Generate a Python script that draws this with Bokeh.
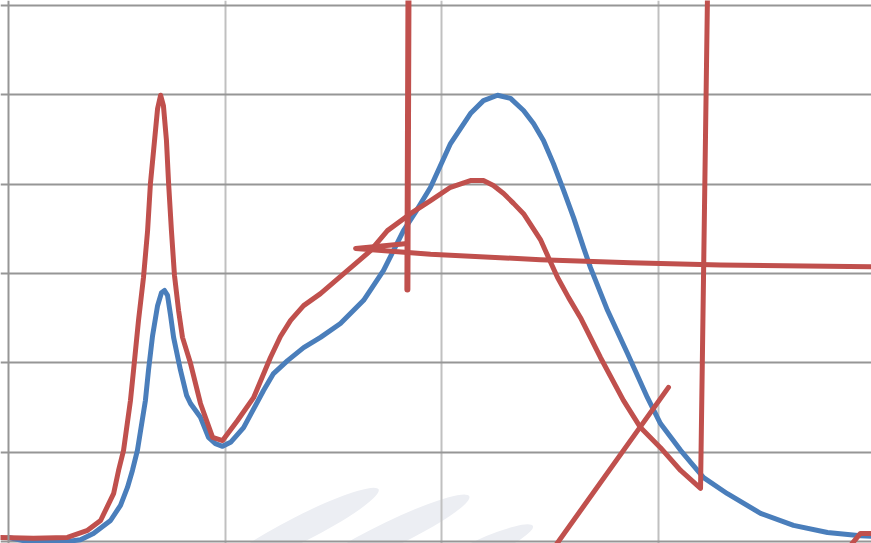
from bokeh.plotting import figure
from bokeh.models import FixedTicker, Range1d, Span
from bokeh.embed import file_html
from bokeh.resources import INLINE

# ---- data (wavelength nm, relative intensity) ----
wavelength_blue = [380.0, 388.8, 407.2, 413.2, 419.2, 427.1, 431.7, 434.9, 437.2, 439.5,
                   443.2, 444.6, 446.5, 448.8, 450.6, 452.0, 453.4, 454.8, 456.2, 459.4,
                   462.2, 464.0, 468.6, 472.3, 475.5, 478.8, 482.5, 488.5, 497.7, 502.3,
                   508.8, 516.2, 524.0, 533.2, 543.9, 553.1, 562.3, 568.3, 574.8, 584.0,
                   593.2, 599.2, 605.7, 611.7, 617.7, 622.3, 626.9, 631.5, 636.2, 640.8,
                   645.4, 648.6, 656.5, 665.7, 674.9, 680.9, 690.2, 700.8, 711.8, 727.1,
                   742.3, 758.0, 773.2, 780.2]
intensity_blue = [0.009, 0.000, 0.000, 0.004, 0.018, 0.047, 0.081, 0.121, 0.159, 0.204,
                  0.316, 0.383, 0.461, 0.528, 0.557, 0.562, 0.551, 0.506, 0.457, 0.383,
                  0.327, 0.309, 0.278, 0.233, 0.219, 0.213, 0.222, 0.255, 0.338, 0.376,
                  0.405, 0.434, 0.457, 0.488, 0.540, 0.607, 0.696, 0.741, 0.793, 0.891,
                  0.958, 0.987, 0.999, 0.992, 0.965, 0.936, 0.898, 0.846, 0.786, 0.725,
                  0.658, 0.613, 0.517, 0.421, 0.322, 0.264, 0.204, 0.143, 0.107, 0.063,
                  0.036, 0.020, 0.013, 0.011]

wavelength_red = [376.3, 391.5, 407.2, 416.5, 422.5, 428.5, 430.8, 433.1, 436.3, 437.7,
                  440.0, 442.3, 444.2, 445.5, 447.4, 448.8, 450.2, 451.5, 452.9, 453.9,
                  455.2, 456.6, 458.5, 460.3, 464.0, 468.6, 474.2, 478.8, 485.7, 493.1,
                  500.9, 505.5, 510.2, 516.2, 524.0, 536.5, 547.1, 554.9, 565.5, 574.8,
                  584.0, 593.2, 599.2, 603.8, 608.5, 613.1, 617.7, 625.5, 629.2, 633.4,
                  638.5, 644.0, 653.2, 663.8, 671.7, 680.9, 690.2, 699.4, 702.6]
intensity_red = [0.009, 0.007, 0.009, 0.025, 0.047, 0.107, 0.159, 0.204, 0.316, 0.383,
                 0.495, 0.591, 0.696, 0.801, 0.898, 0.969, 0.999, 0.976, 0.898, 0.801,
                 0.696, 0.596, 0.517, 0.457, 0.399, 0.309, 0.233, 0.226, 0.271, 0.322,
                 0.412, 0.459, 0.495, 0.528, 0.555, 0.607, 0.651, 0.696, 0.734, 0.763,
                 0.793, 0.808, 0.808, 0.797, 0.779, 0.757, 0.734, 0.676, 0.636, 0.591,
                 0.546, 0.501, 0.412, 0.316, 0.255, 0.210, 0.159, 0.119, 1.222]

# hand-drawn red marks
mark_vert_x = [564.6, 564.1]
mark_vert_y = [1.222, 0.564]
mark_horiz_x = [564.1, 540.2, 574.8, 625.5, 667.1, 708.6, 780.0]
mark_horiz_y = [0.667, 0.656, 0.643, 0.631, 0.624, 0.619, 0.615]
mark_diag_x = [632.5, 684.6]
mark_diag_y = [-0.009, 0.345]
mark_tail_x = [768.6, 773.2, 780.0]
mark_tail_y = [-0.009, 0.018, 0.018]

# faint watermark swooshes
wm_x = [514.8, 556.3, 597.8]
wm_y = [0.028, 0.016, -0.018]
wm_len = [175, 175, 115]
wm_thick = [26, 26, 20]
wm_angle = [0.47, 0.45, 0.42]

x_grid_ticks = [480, 580, 680]
y_grid_ticks = [0.0, 0.2, 0.4, 0.6, 0.8, 1.0, 1.2]

BLUE = "#4a7ebb"
RED = "#c0504d"

p = figure(width=871, height=543, output_backend="svg", toolbar_location=None,
           x_range=Range1d(376.31, 778.3), y_range=Range1d(-0.0045, 1.2112),
           min_border=0, min_border_left=0, min_border_right=0,
           min_border_top=0, min_border_bottom=0)
p.xaxis.visible = False
p.yaxis.visible = False
p.outline_line_color = None
p.background_fill_color = "white"
p.border_fill_color = "white"

p.xgrid.ticker = FixedTicker(ticks=x_grid_ticks)
p.xgrid.grid_line_color = "#c0c0c0"
p.xgrid.grid_line_width = 2
p.ygrid.ticker = FixedTicker(ticks=y_grid_ticks)
p.ygrid.grid_line_color = "#969696"
p.ygrid.grid_line_width = 2

p.ellipse(x=wm_x, y=wm_y, width=wm_len, height=wm_thick, angle=wm_angle,
          width_units="screen", height_units="screen",
          fill_color="#eceef3", line_color=None, level="image")

p.add_layout(Span(location=380, dimension="height", line_color="#969696", line_width=2))

kw = dict(line_width=5, line_cap="round", line_join="round")
p.line(wavelength_blue, intensity_blue, line_color=BLUE, **kw)
p.line(wavelength_red, intensity_red, line_color=RED, **kw)
p.line(mark_vert_x, mark_vert_y, line_color=RED, line_width=6, line_cap="round")
p.line(mark_horiz_x, mark_horiz_y, line_color=RED, **kw)
p.line(mark_diag_x, mark_diag_y, line_color=RED, **kw)
p.line(mark_tail_x, mark_tail_y, line_color=RED, **kw)

open("out.html", "w").write(file_html(p, INLINE))
